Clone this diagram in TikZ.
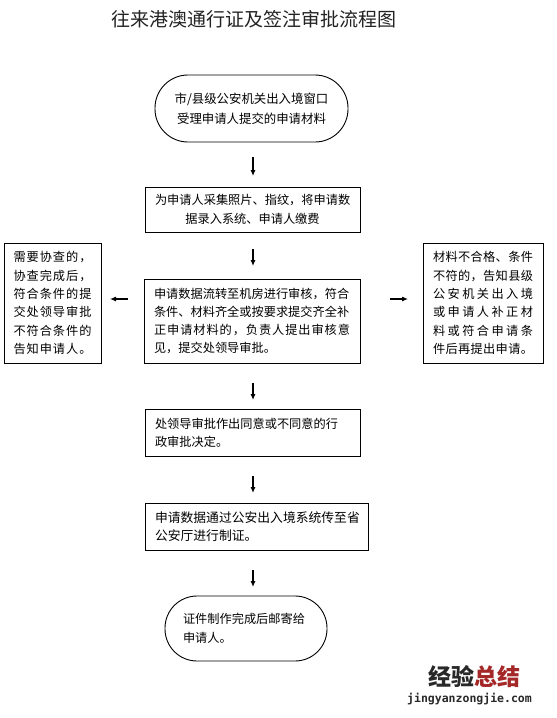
\documentclass[tikz,border=0pt]{standalone}
\usepackage{fontspec}
\setmainfont{Noto Sans CJK SC}
\newfontfamily\wmmono{DejaVu Sans Mono}
\usetikzlibrary{arrows.meta}
\definecolor{wmgray}{RGB}{40,40,40}
\definecolor{wmred}{RGB}{165,40,40}
\definecolor{titlecol}{RGB}{35,35,35}
\makeatletter
\newcommand\spr[1]{\makebox[\linewidth][s]{\spr@a#1\@nil}}
\def\spr@a#1#2\@nil{#1\ifx\relax#2\relax\else\hfill\spr@a#2\@nil\fi}
\makeatother
\begin{document}
\begin{tikzpicture}[x=1pt,y=-1pt,
  box/.style={draw, line width=0.9pt, inner ysep=0pt, inner xsep=10pt, align=left,
    font=\fontsize{12.2}{18.3}\selectfont},
  stadium/.style={box, rounded corners=#1},
  arr/.style={line width=1.1pt, -{Latex[length=6pt,width=5pt]}}
]
\fill[white] (0,0) rectangle (557,718);
\useasboundingbox (0,0) rectangle (557,718);

\node[font=\fontsize{19}{19}\selectfont, text=titlecol, anchor=west, inner sep=0pt] (title) at (111,19) {往来港澳通行证及签注审批流程图};

\node[stadium=33pt, align=center, text width=173pt, minimum height=67pt,
  font=\fontsize{12.4}{20.5}\selectfont] (b1) at (251.5,108.5)
  {市/县级公安机关出入境窗口\\受理申请人提交的申请材料};

\node[box, align=center, text width=195pt, minimum height=45pt] (b2) at (252.5,209.5)
  {为申请人采集照片、指纹，将申请数\\据录入系统、申请人缴费};

\node[box, text width=196pt, minimum height=84pt] (b3) at (252,321)
  {申请数据流转至机房进行审核，符合\\条件、材料齐全或按要求提交齐全补\\\spr{正申请材料的，负责人提出审核意}\\见，提交处领导审批。};

\node[box, text width=78pt, inner xsep=9.5pt, minimum height=120pt] (bl) at (52.5,303)
  {\spr{需要协查的，}\\\spr{协查完成后，}\\\spr{符合条件的提}\\\spr{交处领导审批}\\\spr{不符合条件的}\\\spr{告知申请人。}};

\node[box, text width=100pt, minimum height=120pt] (br) at (483,303)
  {\spr{材料不合格、条件}\\\spr{不符的，告知县级}\\\spr{公安机关出入境}\\\spr{或申请人补正材}\\\spr{料或符合申请条}\\\spr{件后再提出申请。}};

\node[box, text width=195pt, minimum height=47pt] (b4) at (252.5,432.5)
  {处领导审批作出同意或不同意的行\\政审批决定。};

\node[box, text width=203pt, minimum height=47pt, font=\fontsize{12.8}{18.3}\selectfont] (b5) at (256.5,526.5)
  {申请数据通过公安出入境系统传至省\\公安厅进行制证。};

\node[stadium=32pt, text width=126pt, inner xsep=18pt, minimum height=65pt,
  font=\fontsize{12.2}{19}\selectfont] (b6) at (246,628.5)
  {证件制作完成后邮寄给\\申请人。};

\coordinate (a1s) at (253,157); \coordinate (a1e) at (253,176);
\coordinate (a2s) at (253,249); \coordinate (a2e) at (253,266);
\coordinate (a3s) at (253,383); \coordinate (a3e) at (253,400);
\coordinate (a4s) at (253,476); \coordinate (a4e) at (253,493);
\coordinate (a5s) at (253,570); \coordinate (a5e) at (253,587);
\coordinate (als) at (128,299); \coordinate (ale) at (110,299);
\coordinate (ars) at (390,299); \coordinate (are) at (408,299);
\draw[arr] (a1s) -- (a1e);
\draw[arr] (a2s) -- (a2e);
\draw[arr] (a3s) -- (a3e);
\draw[arr] (a4s) -- (a4e);
\draw[arr] (a5s) -- (a5e);
\draw[arr] (als) -- (ale);
\draw[arr] (ars) -- (are);

\node[font=\fontsize{23}{23}\selectfont\bfseries, anchor=west, inner sep=0pt] (wm1) at (428,677)
  {\textcolor{wmgray}{经验}\textcolor{wmred}{总结}};
\node[font={\wmmono\bfseries\fontsize{11.5}{11.5}\selectfont}, text=wmgray, anchor=west, inner sep=0pt] (wm2) at (407,699)
  {jingyanzongjie.com};
\end{tikzpicture}
\end{document}
